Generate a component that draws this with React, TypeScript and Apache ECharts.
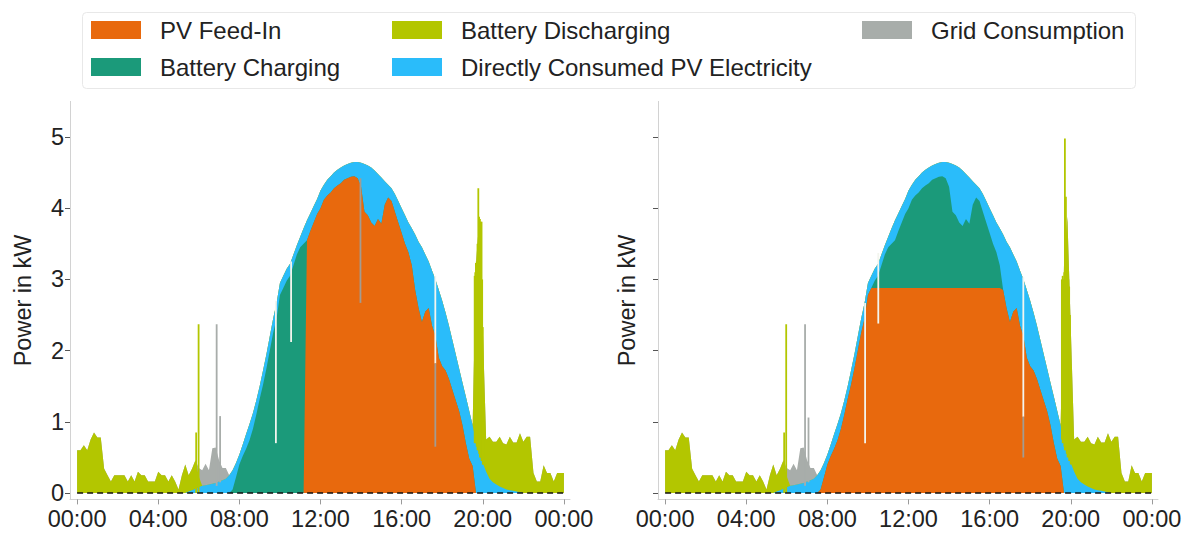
import React, { useEffect, useRef } from "react";
import * as echarts from "echarts";

// ---------- data (10-minute grid, 00:00 .. 24:00, kW) ----------
const Z6 = [0, 0, 0, 0, 0, 0];

// Directly consumed PV electricity (same in both panels)
const directRows = [
  Z6, Z6, Z6, Z6, Z6,
  [0, 0, 0, 0.02, 0.04, 0.06],
  [0.08, 0.1, 0.11, 0.12, 0.13, 0.14],
  [0.16, 0.18, 0.2, 0.25, 0.27, 0.2],
  [0.14, 0.16, 0.21, 0.23, 0.22, 0.2],
  [0.18, 0.2, 0.2, 0.2, 0.2, 0.22],
  [0.17, 0.17, 0.17, 0.17, 0.15, 0.13],
  [0.15, 0.22, 0.28, 0.25, 0.23, 0.21],
  [0.25, 0.21, 0.22, 0.23, 0.22, 0.22],
  [0.22, 0.2, 0.2, 0.2, 0.2, 0.23],
  [0.34, 0.67, 0.7, 0.77, 0.78, 0.63],
  [0.65, 0.33, 0.18, 0.18, 0.25, 0.3],
  [0.35, 0.4, 0.42, 0.52, 0.78, 0.93],
  [1.05, 0.8, 0.65, 0.77, 0.8, 0.95],
  [0.92, 0.81, 0.75, 0.7, 0.65, 0.6],
  [0.6, 0.65, 0.67, 0.57, 0.72, 0.55],
  [0.42, 0.3, 0.2, 0.15, 0.12, 0.09],
  [0.07, 0.05, 0.04, 0.03, 0.02, 0.01],
  Z6, Z6,
  [0],
];

// Battery discharging (same in both panels)
const dischargeRows = [
  [0.6, 0.6, 0.67, 0.6, 0.75, 0.85],
  [0.78, 0.78, 0.34, 0.25, 0.16, 0.25],
  [0.25, 0.25, 0.25, 0.16, 0.25, 0.16],
  [0.3, 0.25, 0.25, 0.16, 0.16, 0.16],
  [0.3, 0.25, 0.25, 0.16, 0.25, 0.16],
  [0.05, 0.25, 0.4, 0.23, 0.3, 0.4],
  [0.15, 0, 0, 0, 0, 0],
  Z6, Z6, Z6, Z6, Z6, Z6, Z6, Z6, Z6, Z6, Z6, Z6,
  [0, 0, 0, 0, 2.5, 3.33],
  [1.9, 0.45, 0.59, 0.57, 0.6, 0.7],
  [0.63, 0.63, 0.75, 0.68, 0.69, 0.83],
  [0.72, 0.79, 0.79, 0.28, 0.16, 0.16],
  [0.39, 0.28, 0.28, 0.16, 0.28, 0.28],
  [0.28],
];

// Grid consumption (same in both panels)
const gridRows = [
  Z6, Z6, Z6, Z6, Z6, Z6,
  [0.12, 0.22, 0.3, 0.2, 0.5, 0.5],
  [0.3, 0.17, 0.15, 0, 0, 0],
  Z6, Z6, Z6, Z6, Z6, Z6, Z6, Z6, Z6, Z6, Z6, Z6, Z6, Z6, Z6, Z6,
  [0],
];

// Left panel: battery charged first, then PV feed-in
const chargeLeftRows = [
  Z6, Z6, Z6, Z6, Z6, Z6, Z6,
  [0, 0, 0, 0, 0.05, 0.22],
  [0.4, 0.52, 0.62, 0.74, 0.9, 1.1],
  [1.32, 1.52, 1.75, 2.0, 2.25, 2.45],
  [2.78, 2.88, 2.98, 3.05, 3.2, 3.35],
  [3.45, 3.5, 0, 0, 0, 0],
  Z6, Z6, Z6, Z6, Z6, Z6, Z6, Z6, Z6, Z6, Z6, Z6,
  [0],
];
const feedLeftRows = [
  Z6, Z6, Z6, Z6, Z6, Z6, Z6, Z6, Z6, Z6, Z6,
  [0, 0, 3.55, 3.68, 3.8, 3.92],
  [4.0, 4.12, 4.18, 4.22, 4.28, 4.32],
  [4.35, 4.4, 4.42, 4.44, 4.45, 4.42],
  [4.3, 3.95, 3.9, 3.8, 3.75, 3.85],
  [3.78, 4.05, 4.15, 4.1, 3.95, 3.8],
  [3.65, 3.5, 3.38, 3.2, 2.85, 2.6],
  [2.4, 2.55, 2.6, 2.35, 2.2, 1.9],
  [1.78, 1.72, 1.6, 1.45, 1.3, 1.15],
  [0.95, 0.7, 0.48, 0.38, 0, 0],
  Z6, Z6, Z6, Z6,
  [0],
];

// Right panel: feed-in limited, surplus charges the battery
const feedRightRows = [
  Z6, Z6, Z6, Z6, Z6, Z6, Z6,
  [0, 0, 0, 0, 0.05, 0.22],
  [0.4, 0.52, 0.62, 0.74, 0.9, 1.1],
  [1.32, 1.52, 1.75, 2.0, 2.25, 2.45],
  [2.78, 2.88, 2.88, 2.88, 2.88, 2.88],
  [2.88, 2.88, 2.88, 2.88, 2.88, 2.88],
  [2.88, 2.88, 2.88, 2.88, 2.88, 2.88],
  [2.88, 2.88, 2.88, 2.88, 2.88, 2.88],
  [2.88, 2.88, 2.88, 2.88, 2.88, 2.88],
  [2.88, 2.88, 2.88, 2.88, 2.88, 2.88],
  [2.88, 2.88, 2.88, 2.88, 2.85, 2.6],
  [2.4, 2.55, 2.6, 2.35, 2.2, 1.9],
  [1.78, 1.72, 1.6, 1.45, 1.3, 1.15],
  [0.95, 0.7, 0.48, 0.38, 0, 0],
  Z6, Z6, Z6, Z6,
  [0],
];
const chargeRightRows = [
  Z6, Z6, Z6, Z6, Z6, Z6, Z6, Z6, Z6, Z6,
  [0, 0, 0.1, 0.17, 0.32, 0.47],
  [0.57, 0.62, 0.67, 0.8, 0.92, 1.04],
  [1.12, 1.24, 1.3, 1.34, 1.4, 1.44],
  [1.47, 1.52, 1.54, 1.56, 1.57, 1.54],
  [1.42, 1.07, 1.02, 0.92, 0.87, 0.97],
  [0.9, 1.17, 1.27, 1.22, 1.07, 0.92],
  [0.77, 0.62, 0.5, 0.32, 0, 0],
  Z6, Z6, Z6, Z6, Z6, Z6, Z6,
  [0],
];

// Narrow one-minute events: [hour, from kW, to kW, colour key]
const spikesLeft = [
  [5.87, 0, 0.85, 0],
  [5.99, 0, 2.37, 0],
  [6.88, 0.1, 2.37, 1],
  [7.05, 0.15, 1.08, 1],
  [9.8, 0.7, 2.7, 2],
  [10.55, 2.12, 3.25, 2],
  [13.97, 2.67, 4.42, 3],
  [17.66, 1.82, 3.05, 2],
  [17.66, 0.65, 1.82, 3],
  [19.6, 0.7, 3.05, 0],
  [19.63, 0.7, 3.1, 0],
  [19.66, 0.7, 3.23, 0],
  [19.7, 0.65, 3.25, 0],
  [19.74, 0.6, 3.5, 0],
  [19.78, 0.6, 4.28, 0],
  [19.82, 0.55, 3.88, 0],
  [19.86, 0.5, 3.85, 0],
  [19.9, 0.5, 3.81, 0],
  [19.94, 0.45, 3.81, 0],
  [19.97, 0.45, 3.0, 0],
  [20.0, 0.4, 2.33, 0],
  [20.03, 0.4, 1.0, 0],
];
const spikesRight = [
  [5.87, 0, 0.85, 0],
  [5.97, 0, 2.37, 0],
  [6.9, 0.1, 2.37, 1],
  [7.07, 0.15, 1.06, 1],
  [9.86, 0.7, 2.67, 2],
  [10.51, 2.38, 3.37, 2],
  [17.66, 1.07, 3.03, 2],
  [17.66, 0.5, 1.07, 3],
  [19.56, 0.75, 3.0, 0],
  [19.6, 0.7, 3.05, 0],
  [19.64, 0.7, 3.0, 0],
  [19.68, 0.65, 3.1, 0],
  [19.71, 0.6, 4.98, 0],
  [19.76, 0.6, 4.16, 0],
  [19.8, 0.55, 3.0, 0],
  [19.84, 0.5, 2.62, 0],
  [19.88, 0.5, 3.0, 0],
  [19.92, 0.45, 2.9, 0],
  [19.96, 0.45, 2.5, 0],
  [20.0, 0.4, 1.2, 0],
];

const tickHours = [0, 4, 8, 12, 16, 20, 24];
const tickLabels = ["00:00", "04:00", "08:00", "12:00", "16:00", "20:00", "00:00"];
const yTicks = [0, 1, 2, 3, 4, 5];

const NAMES: Record<string, string> = {
  feed: "PV Feed-In",
  charge: "Battery Charging",
  discharge: "Battery Discharging",
  direct: "Directly Consumed PV Electricity",
  grid: "Grid Consumption",
};
const COLORS: Record<string, string> = {
  feed: "#E8690D",
  charge: "#1B9A7A",
  discharge: "#B3C600",
  direct: "#2ABCFA",
  grid: "#A8ADAA",
};
const SPIKE_COLORS = ["#B3C600", "#A8ADAA", "#F3F5EE", "#A29C92"];

const FONT = '"Liberation Sans", Arial, Helvetica, sans-serif';
const FS = 24;
const TICK_FS = 23.5;
const TEXT = "#222222";

function flat(rows: number[][]): number[] {
  const out: number[] = [];
  rows.forEach((r) => r.forEach((v) => out.push(v)));
  return out;
}

const TIMES = Array.from({ length: 145 }, (_, i) => i / 6);

// stack layers bottom -> top (the library draws each cumulative layer through its scales)
function stackLayers(layers: number[][]): number[][] {
  const out: number[][] = [];
  let acc = layers[0].map(() => 0);
  layers.forEach((l) => {
    acc = acc.map((a, i) => +(a + l[i]).toFixed(4));
    out.push(acc);
  });
  return out;
}

function areaSeries(key: string, vals: number[], gi: number) {
  return {
    type: "line",
    name: NAMES[key],
    xAxisIndex: gi,
    yAxisIndex: gi,
    symbol: "none",
    smooth: false,
    silent: true,
    lineStyle: { width: 0 },
    itemStyle: { color: COLORS[key] },
    areaStyle: { color: COLORS[key], opacity: 1, origin: 0 },
    data: vals.map((v, i) => [TIMES[i], v]),
    z: 2,
  };
}

function panelSeries(layers: Record<string, number[]>, gi: number) {
  const order = ["feed", "charge", "direct", "discharge", "grid"];
  const cum = stackLayers(order.map((k) => layers[k]));
  // paint top layer first so lower layers cover it from the baseline
  const res: any[] = [];
  for (let i = order.length - 1; i >= 0; i--) res.push(areaSeries(order[i], cum[i], gi));
  return res;
}

function spikeSeries(items: number[][], gi: number) {
  return {
    type: "custom",
    xAxisIndex: gi,
    yAxisIndex: gi,
    encode: { x: 0, y: [1, 2] },
    z: 3,
    silent: true,
    renderItem: (params: any, api: any) => {
      const t = api.value(0);
      const a = api.value(1);
      const b = api.value(2);
      const c = api.value(3);
      const p0 = api.coord([t, a]);
      const p1 = api.coord([t, b]);
      return {
        type: "rect",
        shape: { x: p0[0] - 0.9, y: p1[1], width: 1.8, height: p0[1] - p1[1] },
        style: { fill: SPIKE_COLORS[c] },
      };
    },
    data: items,
  };
}

function zeroLine(gi: number) {
  return {
    type: "line",
    xAxisIndex: gi,
    yAxisIndex: gi,
    symbol: "none",
    silent: true,
    lineStyle: { color: "#111111", width: 1.5, type: [6, 4] },
    data: [
      [0, 0],
      [24, 0],
    ],
    z: 5,
  };
}

function xAxis(gi: number) {
  return {
    type: "value",
    gridIndex: gi,
    min: -0.35,
    max: 24.3,
    axisLine: { show: true, onZero: false, lineStyle: { color: "#d2d2d2", width: 1 } },
    axisTick: { show: true, customValues: tickHours, length: 5, lineStyle: { color: "#9a9a9a" } },
    axisLabel: {
      customValues: tickHours,
      formatter: (v: number) => tickLabels[Math.round(v / 4)],
      fontSize: TICK_FS,
      color: TEXT,
      fontFamily: FONT,
      margin: 8,
    },
    splitLine: { show: false },
  };
}

function yAxis(gi: number) {
  return {
    type: "value",
    gridIndex: gi,
    min: -0.09,
    max: 5.5,
    name: "Power in kW",
    nameLocation: "middle",
    nameGap: gi === 0 ? 35 : 19,
    nameTextStyle: { fontSize: TICK_FS, color: TEXT, fontFamily: FONT },
    axisLine: { show: true, onZero: false, lineStyle: { color: "#d2d2d2", width: 1 } },
    axisTick: { show: true, customValues: yTicks, length: 5, lineStyle: { color: "#555555" } },
    axisLabel: {
      show: gi === 0,
      customValues: yTicks,
      fontSize: TICK_FS,
      color: TEXT,
      fontFamily: FONT,
      margin: 6,
    },
    splitLine: { show: false },
  };
}

function legend(left: number, names: string[]) {
  return {
    left,
    top: 18,
    padding: 0,
    orient: "vertical",
    icon: "rect",
    itemWidth: 50,
    itemHeight: 18,
    itemGap: 13,
    selectedMode: false,
    data: names,
    textStyle: { fontSize: FS, color: TEXT, fontFamily: FONT, padding: [0, 0, 0, 14] },
  };
}

export default function App() {
  const ref = useRef<HTMLDivElement>(null);

  useEffect(() => {
    document.body.style.margin = "0";
    if (!ref.current) return;
    const chart = echarts.init(ref.current, null, { renderer: "svg" });

    const direct = flat(directRows);
    const discharge = flat(dischargeRows);
    const grid = flat(gridRows);

    const left = panelSeries(
      { feed: flat(feedLeftRows), charge: flat(chargeLeftRows), direct, discharge, grid },
      0
    );
    const right = panelSeries(
      { feed: flat(feedRightRows), charge: flat(chargeRightRows), direct, discharge, grid },
      1
    );

    const option: any = {
      animation: false,
      backgroundColor: "#ffffff",
      textStyle: { fontFamily: FONT },
      graphic: [
        {
          type: "rect",
          left: 82,
          top: 12,
          shape: { width: 1053, height: 76, r: 4 },
          style: { fill: "#ffffff", stroke: "#e8e8e8", lineWidth: 1 },
          z: 0,
        },
      ],
      legend: [
        legend(91, [NAMES.feed, NAMES.charge]),
        legend(392, [NAMES.discharge, NAMES.direct]),
        legend(862, [NAMES.grid]),
      ],
      grid: [
        { left: 70, top: 101.4, width: 500, height: 398, outerBoundsMode: "none" },
        { left: 658, top: 101.4, width: 500, height: 398, outerBoundsMode: "none" },
      ],
      xAxis: [xAxis(0), xAxis(1)],
      yAxis: [yAxis(0), yAxis(1)],
      series: [
        ...left,
        spikeSeries(spikesLeft, 0),
        zeroLine(0),
        ...right,
        spikeSeries(spikesRight, 1),
        zeroLine(1),
      ],
    };
    chart.setOption(option);
    return () => chart.dispose();
  }, []);

  return <div ref={ref} style={{ width: 1187, height: 539 }} />;
}
